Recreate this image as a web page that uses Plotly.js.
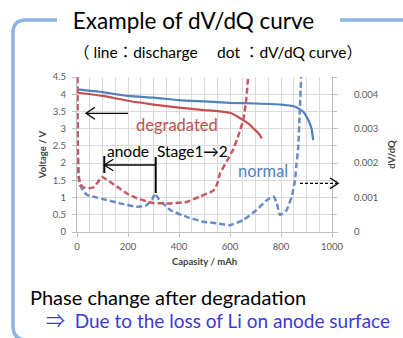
<!DOCTYPE html>
<html><head><meta charset="utf-8">
<script src="https://cdn.plot.ly/plotly-3.0.1.min.js"></script>
<style>html,body{margin:0;padding:0;background:#fff;}#c{width:403px;height:338px;}</style>
</head><body><div id="c"></div>
<script>
// ---- data ----
const capNormal = [0,100,200,300,400,500,600,700,800,850,875,890,900,910,920,926];
const voltNormal = [4.14,4.06,3.95,3.90,3.83,3.79,3.75,3.73,3.70,3.65,3.56,3.47,3.35,3.2,3.0,2.67];
const capDeg = [0,100,200,300,400,500,550,600,625,652,675,690,710,725];
const voltDeg = [4.05,3.95,3.81,3.70,3.61,3.54,3.51,3.46,3.37,3.25,3.13,3.02,2.88,2.72];
const capDegDvdq = [1,3,6,12,25,45,65,82,97,115,140,170,200,234,270,300,365,430,482,535,550,561,587,613,635,652,663,671];
const dvdqDeg = [0.0045,0.0025,0.0017,0.0014,0.0013,0.00127,0.0013,0.00145,0.0016,0.00153,0.0014,0.00125,0.0011,0.00098,0.0009,0.00084,0.00083,0.00087,0.00103,0.0012,0.0014,0.0017,0.00205,0.0024,0.00285,0.00325,0.0038,0.0045];
const capNormDvdq = [1,3,6,12,38,95,169,234,273,295,306,318,335,365,430,495,548,600,652,704,745,771,784,796,822,842,855,861,867,873,879];
const dvdqNorm = [0.0045,0.0025,0.0016,0.00136,0.00108,0.00097,0.00083,0.00073,0.00078,0.00095,0.00112,0.00098,0.00085,0.00064,0.00044,0.0003,0.00025,0.0002,0.00035,0.00064,0.00093,0.00103,0.00083,0.00049,0.00064,0.00103,0.00151,0.002,0.0024,0.0034,0.0045];
const xTicks = [0,200,400,600,800,1000];
const yTicks = [0,0.5,1,1.5,2,2.5,3,3.5,4,4.5];
const y2Ticks = [0,0.001,0.002,0.003,0.004];
const y2TickText = ['0','0.001','0.002','0.003','0.004'];

// ---- geometry helpers (pixel -> paper) ----
const L=77,R=332,T=77,B=232;
const px = x => (x-L)/(R-L);
const py = y => (B-y)/(B-T);
const P = (x,y) => px(x)+','+py(y);
const FONT = "Lato, 'Noto Sans CJK JP', sans-serif";

const traces = [
  {x:capNormal,y:voltNormal,mode:'lines',line:{color:'#4f81bd',width:2.2,shape:'spline',smoothing:0.5},yaxis:'y',hoverinfo:'skip'},
  {x:capDeg,y:voltDeg,mode:'lines',line:{color:'#c0504d',width:2.2,shape:'spline',smoothing:0.5},yaxis:'y',hoverinfo:'skip'},
  {x:capNormDvdq,y:dvdqNorm,mode:'lines',line:{color:'#6a8cc2',width:2.5,dash:'6px,3px',shape:'spline',smoothing:0.4},yaxis:'y2',hoverinfo:'skip'},
  {x:capDegDvdq,y:dvdqDeg,mode:'lines',line:{color:'#c65a63',width:2.5,dash:'6px,3px',shape:'spline',smoothing:0.4},yaxis:'y2',hoverinfo:'skip'}
];

const line = (x0,y0,x1,y1,w,c,dash) => ({type:'line',xref:'paper',yref:'paper',x0:px(x0),y0:py(y0),x1:px(x1),y1:py(y1),line:{color:c||'#000',width:w,dash:dash||'solid'}});
const path = (d,w) => ({type:'path',xref:'paper',yref:'paper',path:d,line:{color:'#000',width:w}});
const FR = '#8db4e2';

const shapes = [
  {type:'path',xref:'paper',yref:'paper',layer:'below',line:{color:FR,width:3.5},
   path:'M'+P(57,20)+' L'+P(26,20)+' Q'+P(13,20)+' '+P(13,33)+' L'+P(13,326)+' Q'+P(13,340)+' '+P(27,340)+' L'+P(410,340)},
  {type:'path',xref:'paper',yref:'paper',layer:'below',line:{color:FR,width:3.5},path:'M'+P(340,20)+' L'+P(410,20)},
  line(86,113.3,128,113.3,1.3),
  path('M'+P(95,107.3)+' L'+P(86,113.3)+' L'+P(95,119.3),1.3),
  line(104.3,156,104.3,173,2),
  line(104.3,165,155.7,165,1.3),
  path('M'+P(113.3,159.3)+' L'+P(104.3,165)+' L'+P(113.3,170.7),1.3),
  line(155.7,157,155.7,193,2),
  line(300,183.3,337,183.3,1.3,'#000','3px,2px'),
  path('M'+P(330,178)+' L'+P(338.3,183.3)+' L'+P(330,188.6),1.3)
];

const ann = (x,y,text,size,color,xanchor) => ({xref:'paper',yref:'paper',x:px(x),y:py(y),text:text,showarrow:false,xanchor:xanchor||'left',yanchor:'middle',font:{family:FONT,size:size,color:color||'#000'}});

const annotations = [
  ann(72,52,'（ line：discharge　 dot ：dV/dQ curve）',15.5,'#000','left'),
  ann(134,125,'degradated',16.5,'#c0504d'),
  ann(105,151,'anode  Stage1→2',15.5,'#000'),
  ann(236,171,'normal',16.5,'#4f81bd'),
  ann(28,297,'Phase change after degradation',20,'#000'),
  ann(44,320,'⇒  Due to the loss of Li on anode surface',19,'#3a3ad6')
];

const layout = {
  width:403,height:338,
  margin:{l:L,r:403-R,t:T,b:338-B,pad:0},
  paper_bgcolor:'#fff',plot_bgcolor:'#fff',
  showlegend:false,
  title:{text:'Example of dV/dQ curve',x:193.5/403,xanchor:'center',y:1-21/338,yanchor:'middle',font:{family:FONT,size:22.5,color:'#000'}},
  xaxis:{range:[0,1000],tickvals:xTicks,ticks:'outside',ticklen:4,tickcolor:'#bfbfbf',ticklabelstandoff:2,
    showline:true,linecolor:'#bfbfbf',linewidth:1,showgrid:true,gridcolor:'#d9d9d9',zeroline:false,
    minor:{dtick:50,showgrid:true,gridcolor:'#d9d9d9'},
    tickfont:{family:FONT,size:9.5,color:'#595959'},
    title:{text:'<b>Capasity / mAh</b>',font:{family:FONT,size:9.5,color:'#404040'},standoff:6}},
  yaxis:{range:[0,4.5],tickvals:yTicks,ticks:'outside',ticklen:4,tickcolor:'#bfbfbf',ticklabelstandoff:4,
    showline:true,linecolor:'#bfbfbf',showgrid:true,gridcolor:'#d9d9d9',zeroline:false,
    tickfont:{family:FONT,size:9.5,color:'#595959'},
    title:{text:'<b>Voltage / V</b>',font:{family:FONT,size:9.5,color:'#404040'},standoff:4}},
  yaxis2:{range:[0,0.0045],overlaying:'y',side:'right',tickvals:y2Ticks,ticktext:y2TickText,ticks:'outside',ticklen:5,tickcolor:'#bfbfbf',
    ticklabelstandoff:14,showline:true,linecolor:'#bfbfbf',showgrid:false,zeroline:false,
    minor:{dtick:0.0005,ticks:'outside',ticklen:4,tickcolor:'#bfbfbf'},
    tickfont:{family:FONT,size:9.5,color:'#595959'},
    title:{text:'<b>dV/dQ</b>',font:{family:FONT,size:9.5,color:'#404040'},standoff:10}},
  shapes:shapes,
  annotations:annotations
};
Plotly.newPlot('c',traces,layout,{staticPlot:true,displayModeBar:false});
</script></body></html>
